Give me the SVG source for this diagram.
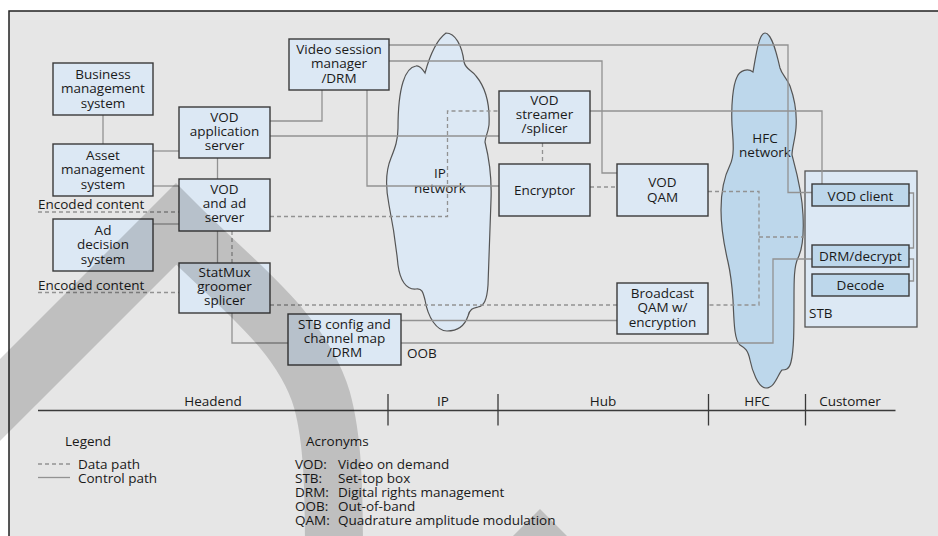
<svg xmlns="http://www.w3.org/2000/svg" width="938" height="536" viewBox="0 0 938 536">
  <style>
    text { font-family: "Open Sans", "Noto Sans", "Liberation Sans", sans-serif; font-size: 13.5px; fill: #1a1a1a; }
    .c { text-anchor: middle; }
    .box { fill: #dce8f4; stroke: #3a3a3a; stroke-width: 1.4; }
    .inner { fill: #bdd7eb; stroke: #3a3a3a; stroke-width: 1.4; }
    .ctl { fill: none; stroke: #929292; stroke-width: 1.3; }
    .data { fill: none; stroke: #929292; stroke-width: 1.3; stroke-dasharray: 4 3; }
    .axis { fill: none; stroke: #3a3a3a; stroke-width: 1.3; }
    .shade { fill: none; stroke: #000; stroke-opacity: 0.17; stroke-width: 58; stroke-linejoin: miter; stroke-miterlimit: 10; }
  </style>

  <!-- page and frame -->
  <rect x="0" y="0" width="938" height="536" fill="#ffffff"/>
  <rect x="9" y="11" width="940" height="540" fill="#e6e6e6"/>
  <path d="M9,536 V11 H938" fill="none" stroke="#222" stroke-width="1.5"/>

  <!-- network clouds -->
  <g id="ip-cloud">
    <path d="M446,33 C455,33 462,45 464,62 C466,70 472,70 476,76 C486,88 490,105 489,125 C488,133 485,138 485,142 C489,158 492,175 491,200 C490,225 489,260 488,285 C487,300 484,306 478,307 C474,308 470,308 468,316 C464,328 456,331 447,331 C437,331 428,318 425,300 C423,292 422,288 416,289 C406,290 400,280 398,265 C396,245 393,225 389,205 C385,185 386,170 391,158 C395,148 398,140 398,128 C398,110 399,95 403,82 C406,72 410,67 416,66 C420,65 423,70 425,73 C428,62 434,42 446,33 Z" fill="#dce8f4" stroke="#555" stroke-width="1.2"/>
    <text class="c" x="440" y="178">IP</text>
    <text class="c" x="440" y="192.5">network</text>
  </g>
  <g id="hfc-cloud">
    <path d="M765,33 C772,33 777,55 780,68 C782,75 787,78 790,86 C795,100 797,115 796,128 C795,140 792,148 792,155 C796,170 802,190 803,215 C804,235 803,248 798,258 C794,266 794,280 794,300 C794,330 794,350 791,362 C789,370 785,370 782,370 C778,374 775,388 766,388 C758,388 752,370 750,360 C748,350 745,348 740,345 C734,340 734,320 733,300 C732,285 731,275 728,262 C724,245 721,230 721,210 C721,190 725,175 730,165 C735,155 733,140 732,125 C731,105 733,85 737,77 C740,70 748,68 753,72 C756,55 759,33 765,33 Z" fill="#bdd7eb" stroke="#555" stroke-width="1.2"/>
    <text class="c" x="765" y="142.5">HFC</text>
    <text class="c" x="765" y="156.5">network</text>
  </g>

  <!-- STB enclosure -->
  <g id="stb">
    <rect x="805" y="171" width="112" height="156" fill="#dce8f4" stroke="#555" stroke-width="1.3"/>
    <text x="809" y="318">STB</text>
  </g>

  <!-- connectors -->
  <g id="connectors">
    <!-- control paths -->
    <path class="ctl" d="M103,115 V144"/>
    <path class="ctl" d="M153,151 H179"/>
    <path class="ctl" d="M153,186 H179"/>
    <path class="ctl" d="M153,224 H179"/>
    <path class="ctl" d="M217.5,158 V179"/>
    <path class="ctl" d="M217.5,231 V263"/>
    <path class="ctl" d="M232,313 V343 H288"/>
    <path class="ctl" d="M270,121 H322 V90"/>
    <path class="ctl" d="M270,136 H499"/>
    <path class="ctl" d="M367,90 V186 H499"/>
    <path class="ctl" d="M389,45 H788 V192.5 H812"/>
    <path class="ctl" d="M389,61 H602 V173 H617"/>
    <path class="ctl" d="M590,111 H822 V184"/>
    <path class="ctl" d="M909,193 H913.5 V248 H909"/>
    <path class="ctl" d="M909,259 H913.5 V281 H909"/>
    <path class="ctl" d="M401,343 H773 V259 H812"/>
    <path class="ctl" d="M401,320.5 H617"/>
    <!-- data paths -->
    <path class="data" d="M38,212 H179"/>
    <path class="data" d="M38,292.5 H179"/>
    <path class="data" d="M232,231 V263"/>
    <path class="data" d="M270,216.5 H447.5 V111 H499"/>
    <path class="data" d="M542.5,143 V164"/>
    <path class="data" d="M590,187 H617"/>
    <path class="data" d="M708,191.5 H759 V305 H708"/>
    <path class="data" d="M759,237 H805"/>
    <path class="data" d="M270,305 H617"/>
  </g>

  <!-- headend nodes -->
  <g id="business-management">
    <rect class="box" x="53" y="63" width="100" height="52"/>
    <text class="c" x="103" y="78.5">Business</text>
    <text class="c" x="103" y="93">management</text>
    <text class="c" x="103" y="107.5">system</text>
  </g>
  <g id="asset-management">
    <rect class="box" x="53" y="144" width="100" height="52"/>
    <text class="c" x="103" y="159.5">Asset</text>
    <text class="c" x="103" y="174">management</text>
    <text class="c" x="103" y="188.5">system</text>
  </g>
  <g id="ad-decision">
    <rect class="box" x="53" y="219" width="100" height="52"/>
    <text class="c" x="103" y="234.5">Ad</text>
    <text class="c" x="103" y="249">decision</text>
    <text class="c" x="103" y="263.5">system</text>
  </g>
  <g id="vod-application-server">
    <rect class="box" x="179" y="107" width="91" height="51"/>
    <text class="c" x="224.5" y="122">VOD</text>
    <text class="c" x="224.5" y="136">application</text>
    <text class="c" x="224.5" y="150">server</text>
  </g>
  <g id="vod-ad-server">
    <rect class="box" x="179" y="179" width="91" height="52"/>
    <text class="c" x="224.5" y="193.5">VOD</text>
    <text class="c" x="224.5" y="207.8">and ad</text>
    <text class="c" x="224.5" y="222">server</text>
  </g>
  <g id="statmux">
    <rect class="box" x="179" y="263" width="91" height="50"/>
    <text class="c" x="224.5" y="277">StatMux</text>
    <text class="c" x="224.5" y="291">groomer</text>
    <text class="c" x="224.5" y="305">splicer</text>
  </g>
  <g id="stb-config">
    <rect class="box" x="288" y="314" width="113" height="51"/>
    <text class="c" x="344.5" y="328.5">STB config and</text>
    <text class="c" x="344.5" y="342.5">channel map</text>
    <text class="c" x="344.5" y="356.5">/DRM</text>
  </g>
  <g id="video-session-manager">
    <rect class="box" x="289" y="39" width="100" height="51"/>
    <text class="c" x="339" y="54">Video session</text>
    <text class="c" x="339" y="68.3">manager</text>
    <text class="c" x="339" y="82.5">/DRM</text>
  </g>

  <!-- hub nodes -->
  <g id="vod-streamer">
    <rect class="box" x="499" y="91" width="91" height="52"/>
    <text class="c" x="544.5" y="105">VOD</text>
    <text class="c" x="544.5" y="119.3">streamer</text>
    <text class="c" x="544.5" y="133.3">/splicer</text>
  </g>
  <g id="encryptor">
    <rect class="box" x="499" y="164" width="91" height="52"/>
    <text class="c" x="544.5" y="195">Encryptor</text>
  </g>
  <g id="vod-qam">
    <rect class="box" x="617" y="164" width="91" height="52"/>
    <text class="c" x="662.5" y="187">VOD</text>
    <text class="c" x="662.5" y="201.5">QAM</text>
  </g>
  <g id="broadcast-qam">
    <rect class="box" x="617" y="283" width="91" height="51"/>
    <text class="c" x="662.5" y="297.5">Broadcast</text>
    <text class="c" x="662.5" y="312">QAM w/</text>
    <text class="c" x="662.5" y="326.5">encryption</text>
  </g>

  <!-- customer premises -->
  <g id="vod-client">
    <rect class="inner" x="812" y="184" width="97" height="22"/>
    <text class="c" x="860.5" y="200.5">VOD client</text>
  </g>
  <g id="drm-decrypt">
    <rect class="inner" x="812" y="245" width="97" height="22"/>
    <text class="c" x="860.5" y="260.5">DRM/decrypt</text>
  </g>
  <g id="decode">
    <rect class="inner" x="812" y="274" width="97" height="22"/>
    <text class="c" x="860.5" y="290">Decode</text>
  </g>

  <!-- free labels -->
  <text x="38" y="209">Encoded content</text>
  <text x="38" y="289.5">Encoded content</text>
  <text x="407" y="358">OOB</text>

  <!-- domain axis -->
  <g id="domains">
    <path class="axis" d="M38,410.5 H895.5"/>
    <path class="axis" d="M388,394 V425.5 M498,394 V425.5 M708.5,394 V425.5 M805.5,394 V425.5"/>
    <text class="c" x="213" y="406">Headend</text>
    <text class="c" x="443" y="406">IP</text>
    <text class="c" x="603" y="406">Hub</text>
    <text class="c" x="757" y="406">HFC</text>
    <text class="c" x="850" y="406">Customer</text>
  </g>

  <!-- legend -->
  <g id="legend">
    <text x="65" y="446">Legend</text>
    <path class="data" d="M38,464 H70"/>
    <path class="ctl" d="M38,477.5 H70"/>
    <text x="78" y="468.5">Data path</text>
    <text x="78" y="482.5">Control path</text>
  </g>
  <g id="acronyms">
    <text x="306" y="446">Acronyms</text>
    <text x="295" y="468.5">VOD:<tspan x="338">Video on demand</tspan></text>
    <text x="295" y="482.5">STB:<tspan x="338">Set-top box</tspan></text>
    <text x="295" y="496.5">DRM:<tspan x="338">Digital rights management</tspan></text>
    <text x="295" y="510.5">OOB:<tspan x="338">Out-of-band</tspan></text>
    <text x="295" y="524.5">QAM:<tspan x="338">Quadrature amplitude modulation</tspan></text>
  </g>

  <!-- translucent arch bands over the page -->
  <g id="arch-band">
    <path class="shade" d="M-150,550 L176,224 C238,286 302,332 322,400 C333,440 334,490 334,560"/>
    <path class="shade" d="M480,610 L540,550 L600,610"/>
  </g>
</svg>
